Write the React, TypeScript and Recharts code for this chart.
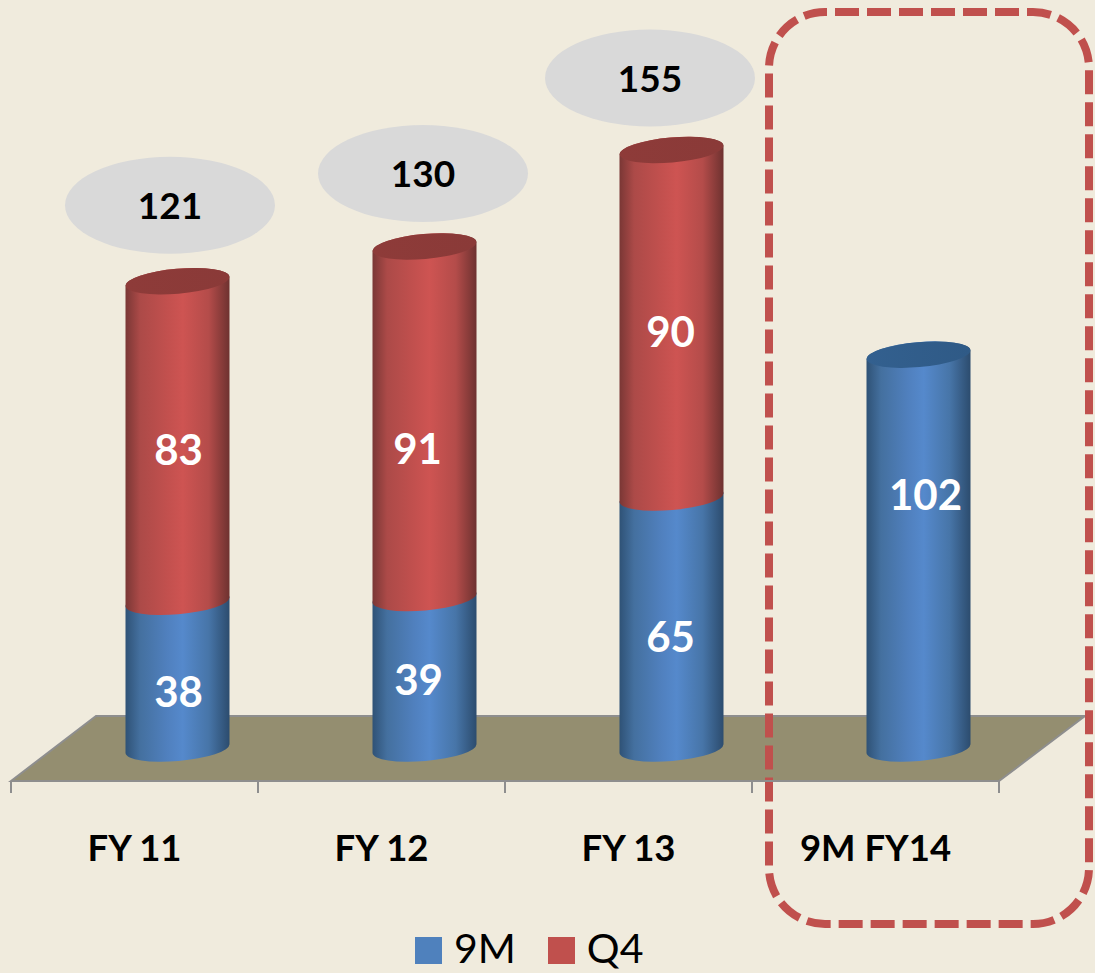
import { Bar, ComposedChart, LabelList, Legend, Line, XAxis, YAxis } from "recharts";

const categories = ["FY 11", "FY 12", "FY 13", "9M FY14"];
const nineMonths = [38, 39, 65, 102];
const fourthQuarter = [83, 91, 90, null];
const totals = [121, 130, 155, null];

const rows = categories.map((name, i) => ({
  name,
  nineMonths: nineMonths[i],
  fourthQuarter: fourthQuarter[i],
  total: totals[i],
}));

const W = 1095;
const H = 973;
const FONT = "Lato, 'Open Sans', sans-serif";
const AXIS_Y = 781;
const BAND = 247;

// columns stand further back on the floor than their axis band
const DEPTH_X = 42.5;
const DEPTH_Y = -32.5;
const BAR_WIDTH = 104;

// hand placed label nudges, [dx, dy] from the column segment centre
const nineNudge = [[1, 16], [-6, 6], [-1, 13], [7, -58]];
const q4Nudge = [[1, 7], [-7, 26], [-1, 7]];
// bubble centres relative to each total's point
const bubbleNudge = [[35.5, -109.5], [41.5, -106.5], [21.5, -105.5]];

function cylinder(fillId: string, capId: string, topSeries: (row: any) => boolean) {
  return (props: any) => {
    const { x, y, width, height, payload } = props;
    if (!height || height <= 0) return <g />;
    const left = x + DEPTH_X;
    const right = left + width;
    const yTop = y + DEPTH_Y;
    const yBottom = y + height + DEPTH_Y;
    const rx = width / 2;
    const ry = 12.5;
    const slope = 4.5;
    const arc = `A${rx} ${ry} -5`;
    const body = `M${left} ${yBottom + slope} ${arc} 0 0 ${right} ${yBottom - slope} L${right} ${yTop - slope} ${arc} 0 0 ${left} ${yTop + slope} Z`;
    return (
      <g>
        <path d={body} fill={`url(#${fillId})`} />
        {topSeries(payload) && (
          <ellipse
            cx={left + rx}
            cy={yTop}
            rx={rx}
            ry={ry}
            fill={`url(#${capId})`}
            transform={`rotate(-5 ${left + rx} ${yTop})`}
          />
        )}
      </g>
    );
  };
}

function segmentLabel(nudges: number[][]) {
  return (props: any) => {
    const { x, y, width, height, value, index } = props;
    if (value == null || !nudges[index]) return null;
    const [dx, dy] = nudges[index];
    return (
      <text
        x={x + width / 2 + DEPTH_X + dx}
        y={y + height / 2 + DEPTH_Y + dy}
        textAnchor="middle"
        dominantBaseline="central"
        fontFamily={FONT}
        fontWeight={700}
        fontSize={42}
        fill="#fff"
      >
        {value}
      </text>
    );
  };
}

function TotalBubble(props: any) {
  const { cx, cy, index, value } = props;
  if (value == null || !bubbleNudge[index]) return <g key={index} />;
  const [dx, dy] = bubbleNudge[index];
  return (
    <g key={index}>
      <ellipse cx={cx + dx} cy={cy + dy + 1} rx={105} ry={48.5} fill="#D9D9D9" />
      <text
        x={cx + dx}
        y={cy + dy}
        textAnchor="middle"
        dominantBaseline="central"
        fontFamily={FONT}
        fontWeight={700}
        fontSize={37}
        fill="#000"
      >
        {value}
      </text>
    </g>
  );
}

// ticks sit on the band edges, labels in the band centre
function BandTick(props: any) {
  const { x, payload, index } = props;
  const edge = x - BAND / 2;
  return (
    <g>
      <line x1={edge} x2={edge} y1={AXIS_Y} y2={AXIS_Y + 12} stroke="#8E8E8E" strokeWidth={2} />
      {index === categories.length - 1 && (
        <line x1={x + BAND / 2} x2={x + BAND / 2} y1={AXIS_Y} y2={AXIS_Y + 12} stroke="#8E8E8E" strokeWidth={2} />
      )}
      <text
        x={x}
        y={AXIS_Y + 66}
        textAnchor="middle"
        dominantBaseline="central"
        fontFamily={FONT}
        fontWeight={700}
        fontSize={36.5}
        fill="#000"
      >
        {payload.value}
      </text>
    </g>
  );
}

function LegendRow({ payload }: any) {
  const entries = (payload || []).filter((item: any) => item.type !== "none");
  return (
    <div style={{ display: "flex", alignItems: "center", height: 36, lineHeight: "36px", paddingLeft: 415, fontFamily: FONT, fontSize: 41, color: "#000" }}>
      {entries.map((item: any) => (
        <div key={item.value} style={{ display: "flex", alignItems: "center", marginRight: 32 }}>
          <span style={{ width: 27, height: 27, background: item.color, marginRight: 12, position: "relative", top: 2 }} />
          {item.value}
        </div>
      ))}
    </div>
  );
}

function Shade({ id, stops }: { id: string; stops: [number, string][] }) {
  return (
    <linearGradient id={id} x1="0" y1="0" x2="1" y2="0">
      {stops.map(([offset, color]) => (
        <stop key={offset} offset={offset} stopColor={color} />
      ))}
    </linearGradient>
  );
}

export default function App() {
  return (
    <div style={{ position: "absolute", left: 0, top: 0, width: W, height: H, background: "#F0EBDD", overflow: "hidden" }}>
      <ComposedChart
        width={W}
        height={H}
        data={rows}
        barCategoryGap={0}
        margin={{ top: 86, right: 96, bottom: 96, left: 11 }}
      >
        <defs>
          <Shade id="blueBody" stops={[[0, "#2F5276"], [0.14, "#44709F"], [0.4, "#5080BE"], [0.55, "#5589CC"], [0.8, "#4775A8"], [1, "#2C4C6E"]]} />
          <Shade id="blueCap" stops={[[0, "#33608F"], [1, "#2F5A86"]]} />
          <Shade id="redBody" stops={[[0, "#7A3735"], [0.14, "#AC4A48"], [0.4, "#C2504E"], [0.55, "#CE5452"], [0.8, "#B44C4A"], [1, "#6E3230"]]} />
          <Shade id="redCap" stops={[[0, "#8E3B39"], [1, "#8A3A38"]]} />
        </defs>
        <polygon
          points={`11,${AXIS_Y} 96,716 1085,716 999,${AXIS_Y}`}
          fill="#948E70"
          stroke="#8E8E8E"
          strokeWidth={2}
        />
        <XAxis
          dataKey="name"
          axisLine={{ stroke: "#8E8E8E", strokeWidth: 2 }}
          tickLine={false}
          interval={0}
          height={60}
          tick={<BandTick />}
        />
        <YAxis hide domain={[0, 180]} />
        <Bar
          dataKey="nineMonths"
          name="9M"
          stackId="a"
          barSize={BAR_WIDTH}
          fill="#4F81BD"
          isAnimationActive={false}
          shape={cylinder("blueBody", "blueCap", (row) => row.fourthQuarter == null)}
        >
          <LabelList dataKey="nineMonths" content={segmentLabel(nineNudge)} />
        </Bar>
        <Bar
          dataKey="fourthQuarter"
          name="Q4"
          stackId="a"
          barSize={BAR_WIDTH}
          fill="#C0504D"
          isAnimationActive={false}
          shape={cylinder("redBody", "redCap", () => true)}
        >
          <LabelList dataKey="fourthQuarter" content={segmentLabel(q4Nudge)} />
        </Bar>
        <Line
          dataKey="total"
          stroke="none"
          legendType="none"
          connectNulls={false}
          dot={<TotalBubble />}
          activeDot={false}
          isAnimationActive={false}
        />
        <Legend
          verticalAlign="bottom"
          content={<LegendRow />}
          wrapperStyle={{ left: 0, width: W, top: 930, height: 36 }}
        />
        <rect
          x={769}
          y={12}
          width={320}
          height={912}
          rx={56}
          ry={56}
          fill="none"
          stroke="#C0504D"
          strokeWidth={8}
          strokeDasharray="24 8"
          strokeDashoffset={-10}
        />
      </ComposedChart>
    </div>
  );
}
